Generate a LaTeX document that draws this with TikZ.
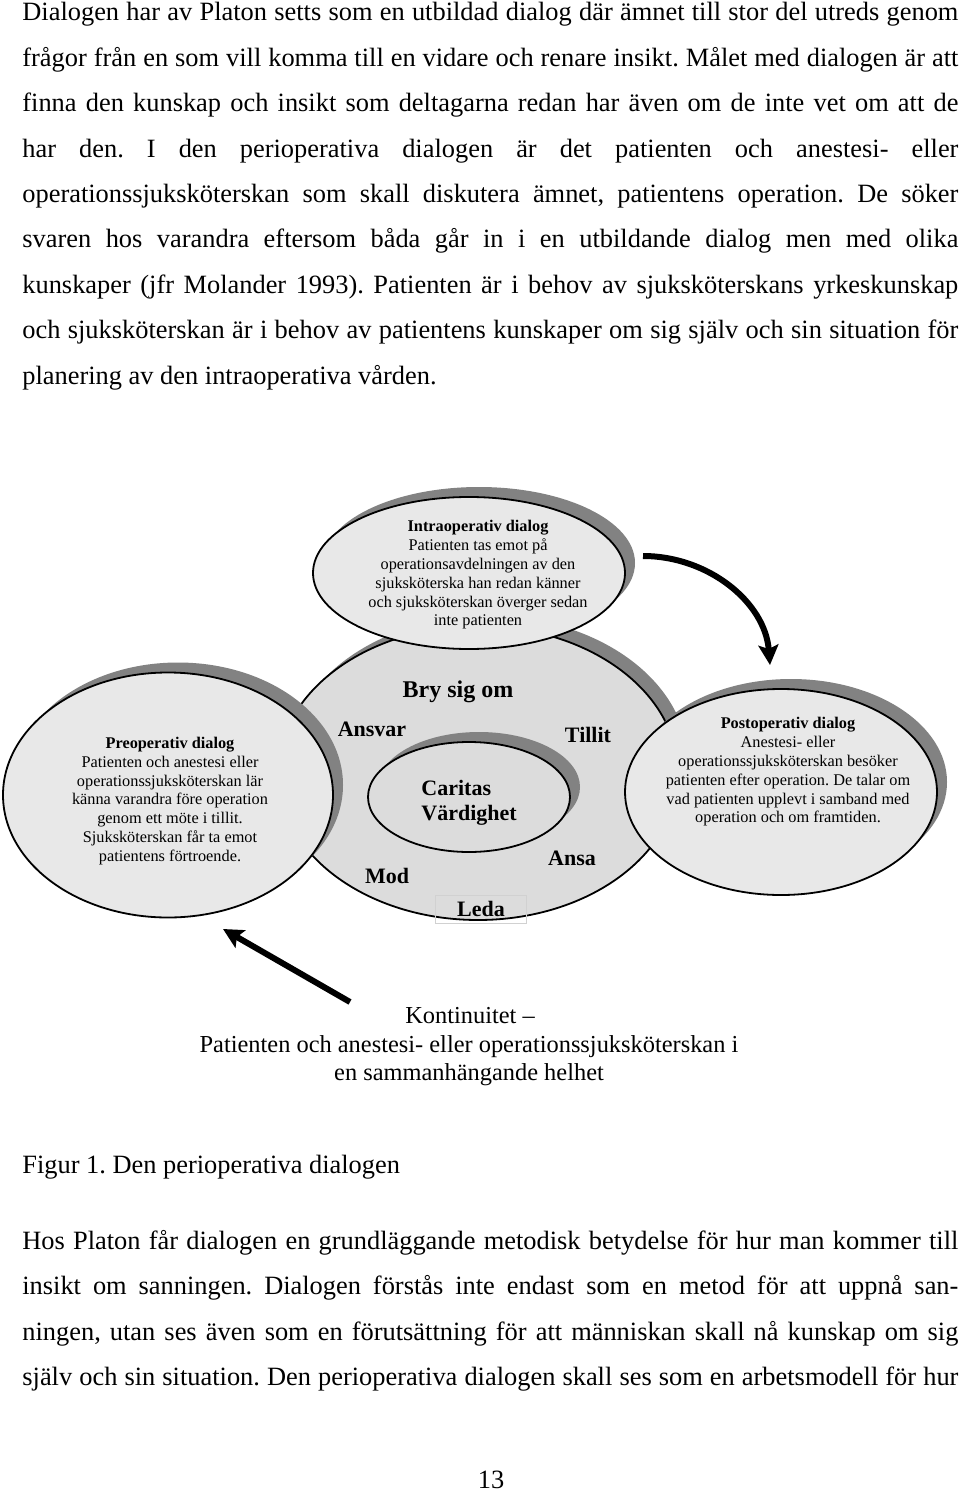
\documentclass[tikz,border=0pt]{standalone}
\usepackage{fontspec}
\setmainfont{Liberation Serif}
\usetikzlibrary{shapes.geometric,shadows,arrows.meta}

\definecolor{ringgray}{HTML}{DCDCDC}
\definecolor{dlggray}{HTML}{E8E8E8}
\definecolor{shadegray}{HTML}{828282}

\tikzset{
  dlgellipse/.style={draw, ellipse, line width=0.9pt, fill=dlggray, inner sep=0pt,
    drop shadow={shadow xshift=5pt, shadow yshift=5pt, fill=shadegray, opacity=1}},
  ringellipse/.style={dlgellipse, fill=ringgray},
  dlgtext/.style={align=center, inner sep=0pt, font=\fontsize{8.15}{9.4}\selectfont},
  word/.style={inner sep=0pt, font=\fontsize{11}{12.5}\selectfont\bfseries},
  bodyline/.style={anchor=base west, inner sep=0pt, font=\fontsize{13.2}{22.7}\selectfont},
  captline/.style={anchor=base, inner sep=0pt, font=\fontsize{12.2}{14}\selectfont},
  bigarrow/.style={line width=3pt, -{Stealth[length=10pt,width=10pt,inset=2pt]}}
}

\begin{document}
\frenchspacing
\begin{tikzpicture}[x=0.5pt, y=-0.5pt]
		\path[use as bounding box, fill=white] (0,0) rectangle (960,1492);
		
		% text above the figure
		\foreach \ln [count=\i from 0] in {
			{Dialogen har av Platon setts som en utbildad dialog där ämnet till stor del utreds genom},
			{frågor från en som vill komma till en vidare och renare insikt. Målet med dialogen är att},
			{finna den kunskap och insikt som deltagarna redan har även om de inte vet om att de},
			{har den. I den perioperativa dialogen är det patienten och anestesi- eller},
			{operationssjuksköterskan som skall diskutera ämnet, patientens operation. De söker},
			{svaren hos varandra eftersom båda går in i en utbildande dialog men med olika},
			{kunskaper (jfr Molander 1993). Patienten är i behov av sjuksköterskans yrkeskunskap},
			{och sjuksköterskan är i behov av patientens kunskaper om sig själv och sin situation för}}
			\node[bodyline] (topline\i) at (22,{21+45.4*\i}) {\makebox[468pt][s]{\ln}};
		\node[bodyline] (topline8) at (22,384) {planering av den intraoperativa vården.};
		
		% the dialog model
		\node[ringellipse, minimum width=200pt, minimum height=147pt] (ring) at (478,773) {};
		\node[ringellipse, minimum width=101pt, minimum height=55pt] (core) at (469,797) {};
		\node[dlgellipse, minimum width=156pt, minimum height=76pt] (intra) at (469,573) {};
		\node[dlgellipse, minimum width=165pt, minimum height=122.5pt] (pre) at (168,795) {};
		\node[dlgellipse, minimum width=156pt, minimum height=103pt] (post) at (781,792) {};
		
		\node[dlgtext] (intratxt) at (478,575) {\textbf{Intraoperativ dialog}\\Patienten tas emot på\\operationsavdelningen av den\\sjuksköterska han redan känner\\och sjuksköterskan överger sedan\\inte patienten};
		\node[dlgtext] (pretxt) at (170,801) {\textbf{Preoperativ dialog}\\Patienten och anestesi eller\\operationssjuksköterskan lär\\känna varandra före operation\\genom ett möte i tillit.\\Sjuksköterskan får ta emot\\patientens förtroende.};
		\node[dlgtext] (posttxt) at (788,772) {\textbf{Postoperativ dialog}\\Anestesi- eller\\operationssjuksköterskan besöker\\patienten efter operation. De talar om\\vad patienten upplevt i samband med\\operation och om framtiden.};
		
		\node[word, anchor=base, font=\fontsize{12}{14}\selectfont\bfseries] (bry) at (458,697) {Bry sig om};
		\node[word, anchor=base] (ansvar) at (372,736) {Ansvar};
		\node[word, anchor=base] (tillit) at (588,742) {Tillit};
		\node[word, anchor=west, align=left] (caritas) at (421,803) {Caritas\\Värdighet};
		\node[word, anchor=base] (ansa) at (572,865) {Ansa};
		\node[word, anchor=base] (mod) at (387,883) {Mod};
		\node[word, draw=black!18, line width=0.4pt, minimum width=45.5pt, minimum height=14pt] (leda) at (481,909) {Leda};
		
		% arrows
		\coordinate (arrAstart) at (643,556);
		\coordinate (arrAend) at (770,665);
		\draw[bigarrow] (arrAstart) .. controls (708,556) and (765,602) .. (arrAend);
		\coordinate (arrBstart) at (350,1002);
		\coordinate (arrBend) at (223,929);
		\draw[bigarrow] (arrBstart) -- (arrBend);
		
		\node[captline] (kont1) at (470,1023) {Kontinuitet –};
		\node[captline] (kont2) at (469,1052) {Patienten och anestesi- eller operationssjuksköterskan i};
		\node[captline] (kont3) at (469,1080) {en sammanhängande helhet};
		
		% text below the figure
		\node[bodyline] (figcap) at (22,1173) {Figur 1. Den perioperativa dialogen};
		\foreach \ln [count=\i from 0] in {
			{Hos Platon får dialogen en grundläggande metodisk betydelse för hur man kommer till},
			{insikt om sanningen. Dialogen förstås inte endast som en metod för att uppnå san-},
			{ningen, utan ses även som en förutsättning för att människan skall nå kunskap om sig},
			{själv och sin situation. Den perioperativa dialogen skall ses som en arbetsmodell för hur}}
			\node[bodyline] (botline\i) at (22,{1249+45.6*\i}) {\makebox[468pt][s]{\ln}};
		\node[bodyline, anchor=base] (pagenum) at (491,1488) {13};
	\end{tikzpicture}
\end{document}
